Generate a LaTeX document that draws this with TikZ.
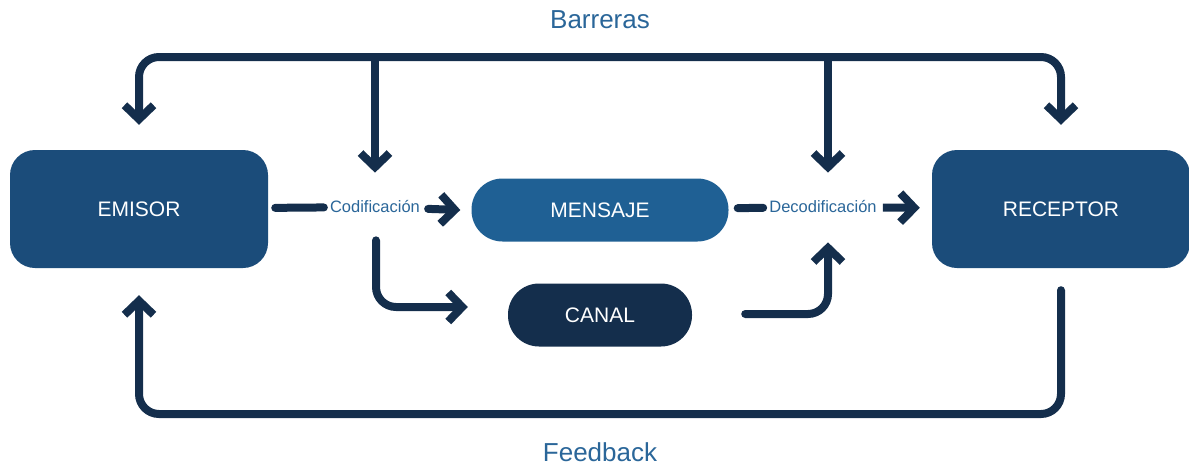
\documentclass[tikz,border=0pt]{standalone}
\usepackage{fontspec}
\setmainfont{Liberation Sans}
\usepackage{xcolor}
\usetikzlibrary{arrows.meta,positioning,calc}

\definecolor{boxblue}{HTML}{1B4C7A}
\definecolor{msgblue}{HTML}{1F6094}
\definecolor{navy}{HTML}{142E4C}
\definecolor{labelblue}{HTML}{2A6699}

\tikzset{
  bigbox/.style={fill=boxblue, text=white, rounded corners=25pt,
    minimum width=258pt, minimum height=118pt, font=\fontsize{21}{25}\selectfont},
  pill/.style={text=white, rounded corners=31pt,
    minimum height=63pt, font=\fontsize{21}{25}\selectfont},
  steplabel/.style={text=labelblue, inner sep=6pt, font=\fontsize{16.5}{20}\selectfont},
  titlelabel/.style={text=labelblue, font=\fontsize{26}{30}\selectfont},
  flow/.style={draw=navy, line width=8pt, rounded corners=20pt},
  chevron/.tip={Straight Barb[length=14pt, width=29pt, line cap=butt, line join=miter]},
  arr/.style={flow, -chevron}
}

\begin{document}
\begin{tikzpicture}[x=1pt, y=-1pt]
  \useasboundingbox (0,0) rectangle (1189,466);

  % main boxes
  \node[bigbox] (emisor) at (139,209) {EMISOR};
  \node[bigbox] (receptor) at (1061,209) {RECEPTOR};
  \node[pill, fill=msgblue, minimum width=257pt] (mensaje) at (600,210) {MENSAJE};
  \node[pill, fill=navy, minimum width=184pt] (canal) at (600,315) {CANAL};

  % labels
  \node[steplabel] (cod) at (375,207) {Codificación};
  \node[steplabel] (dec) at (823,207) {Decodificación};
  \node[titlelabel] (barreras) at (600,20) {Barreras};
  \node[titlelabel] (feedback) at (600,452) {Feedback};
  \coordinate (top) at (600,57);
  \coordinate (bottom) at (600,414);

  % barreras
  \draw[flow, chevron-chevron, shorten <=25pt, shorten >=25pt]
    (emisor.north) |- (top) -| (receptor.north);
  \draw[arr, shorten >=22pt] (cod |- top) -- (cod.north);
  \draw[arr, shorten >=22pt] ([xshift=5pt]dec |- top) -- ([xshift=5pt]dec.north);

  % message flow
  \draw[flow, line cap=round, shorten <=7pt] (emisor) -- (cod);
  \draw[arr, line cap=round, shorten <=2pt] (cod) -- ([xshift=-11pt]mensaje.west);
  \draw[flow, line cap=round, shorten <=9pt] (mensaje) -- (dec);
  \draw[arr, shorten >=12pt] (dec) -- (receptor);
  \draw[arr, line cap=round, shorten <=21pt, shorten >=40pt] ([xshift=1pt]cod.south) |- ([yshift=8pt]canal.west);
  \draw[arr, line cap=round, shorten <=53pt, shorten >=23pt] ([yshift=1pt]canal.east) -| ([xshift=5pt]dec.south);

  % feedback
  \draw[arr, line cap=round, shorten <=22pt, shorten >=27pt] (receptor.south) |- (bottom) -| (emisor.south);
\end{tikzpicture}
\end{document}
